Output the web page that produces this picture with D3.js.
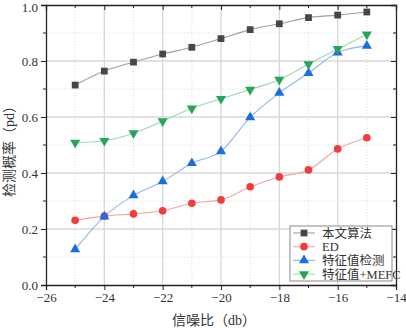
<!DOCTYPE html>
<html>
<head>
<meta charset="utf-8">
<script src="https://cdn.jsdelivr.net/npm/d3@7"></script>
<style>
  body { margin: 0; background: #fff; }
  text { font-family: "Liberation Serif", "Noto Sans CJK SC", serif; }
</style>
</head>
<body>
<div id="chart"></div>
<script>
const snr = [-25, -24, -23, -22, -21, -20, -19, -18, -17, -16, -15];
const ours = [0.714, 0.764, 0.796, 0.825, 0.849, 0.880, 0.912, 0.933, 0.955, 0.964, 0.975];
const ed = [0.231, 0.246, 0.254, 0.265, 0.292, 0.304, 0.351, 0.386, 0.411, 0.486, 0.526];
const eigen = [0.127, 0.244, 0.320, 0.370, 0.435, 0.477, 0.599, 0.686, 0.757, 0.830, 0.854];
const eigenMefc = [0.508, 0.515, 0.542, 0.585, 0.631, 0.665, 0.698, 0.733, 0.789, 0.843, 0.895];
const seriesNames = ['本文算法', 'ED', '特征值检测', '特征值+MEFC'];
const xTicks = [-26, -24, -22, -20, -18, -16, -14];
const yTicks = [0, 0.2, 0.4, 0.6, 0.8, 1.0];

const width = 406, height = 328;
const margin = { top: 5, right: 10, bottom: 43, left: 46 };
const innerW = width - margin.left - margin.right;
const innerH = height - margin.top - margin.bottom;

const series = [
  { name: seriesNames[0], values: ours, marker: '#474747', line: '#a0a0a0', symbol: d3.symbolSquare, size: 46, rot: 0 },
  { name: seriesNames[1], values: ed, marker: '#f23c3c', line: '#f5a3a3', symbol: d3.symbolCircle, size: 46, rot: 0 },
  { name: seriesNames[2], values: eigen, marker: '#1a6fdf', line: '#8fb6ef', symbol: d3.symbolTriangle, size: 44, rot: 0 },
  { name: seriesNames[3], values: eigenMefc, marker: '#27a55a', line: '#9cd9b0', symbol: d3.symbolTriangle, size: 44, rot: 180 }
];

const svg = d3.select('#chart')
  .append('svg')
  .attr('width', width)
  .attr('height', height);

const graph = svg.append('g')
  .attr('transform', `translate(${margin.left}, ${margin.top})`);

const x = d3.scaleLinear().domain([-26, -14]).range([0, innerW]);
const y = d3.scaleLinear().domain([0, 1]).range([innerH, 0]);

const minorX = d3.range(-25, -14, 2);
const minorY = d3.range(0.1, 1, 0.2);

// grid
graph.append('g').selectAll('line')
  .data(minorX)
  .join('line')
  .attr('x1', d => x(d)).attr('x2', d => x(d))
  .attr('y1', 0).attr('y2', innerH)
  .attr('stroke', '#dcdcdc').attr('stroke-dasharray', '1,2');
graph.append('g').selectAll('line')
  .data(minorY)
  .join('line')
  .attr('y1', d => y(d)).attr('y2', d => y(d))
  .attr('x1', 0).attr('x2', innerW)
  .attr('stroke', '#dcdcdc').attr('stroke-dasharray', '1,2');
graph.append('g').selectAll('line')
  .data(xTicks.slice(1, -1))
  .join('line')
  .attr('x1', d => x(d)).attr('x2', d => x(d))
  .attr('y1', 0).attr('y2', innerH)
  .attr('stroke', '#d9d9d9').attr('stroke-width', 1.3);
graph.append('g').selectAll('line')
  .data(yTicks.slice(1, -1))
  .join('line')
  .attr('y1', d => y(d)).attr('y2', d => y(d))
  .attr('x1', 0).attr('x2', innerW)
  .attr('stroke', '#d9d9d9').attr('stroke-width', 1.3);

// axes
const xAxis = graph.append('g')
  .attr('transform', `translate(0, ${innerH})`)
  .call(d3.axisBottom(x).tickValues(xTicks).tickSize(5).tickPadding(3)
    .tickFormat(d => d3.format('d')(d).replace('-', '\u2212')));
xAxis.append('g').selectAll('line')
  .data(minorX).join('line')
  .attr('x1', d => x(d)).attr('x2', d => x(d))
  .attr('y1', 0).attr('y2', 3).attr('stroke', '#222');

const yAxis = graph.append('g')
  .call(d3.axisLeft(y).tickValues(yTicks).tickSize(5).tickPadding(3)
    .tickFormat(d3.format('.1f')));
yAxis.append('g').selectAll('line')
  .data(minorY).join('line')
  .attr('y1', d => y(d)).attr('y2', d => y(d))
  .attr('x1', 0).attr('x2', -3).attr('stroke', '#222');

graph.append('g')
  .call(d3.axisTop(x).tickValues(xTicks).tickSize(-5).tickFormat(''))
  .append('g').selectAll('line')
  .data(minorX).join('line')
  .attr('x1', d => x(d)).attr('x2', d => x(d))
  .attr('y1', 0).attr('y2', 3).attr('stroke', '#222');

graph.append('g')
  .attr('transform', `translate(${innerW}, 0)`)
  .call(d3.axisRight(y).tickValues(yTicks).tickSize(-5).tickFormat(''))
  .append('g').selectAll('line')
  .data(minorY).join('line')
  .attr('y1', d => y(d)).attr('y2', d => y(d))
  .attr('x1', 0).attr('x2', -3).attr('stroke', '#222');

graph.selectAll('.domain').attr('stroke', '#222').attr('stroke-width', 1.3);
graph.selectAll('.tick line').attr('stroke', '#222');
graph.selectAll('.tick text')
  .attr('fill', '#333')
  .style('font-size', '13px');
// keep the top label inside the picture
yAxis.selectAll('.tick text')
  .filter(d => d === 1)
  .attr('y', 2);

// lines and markers
const line = d3.line()
  .x((d, i) => x(snr[i]))
  .y(d => y(d))
  .curve(d3.curveMonotoneX);

series.forEach(s => {
  graph.append('path')
    .datum(s.values)
    .attr('fill', 'none')
    .attr('stroke', s.line)
    .attr('stroke-width', 1.1)
    .attr('d', line);
});

series.forEach(s => {
  const sym = d3.symbol().type(s.symbol).size(s.size);
  graph.append('g').selectAll('path')
    .data(s.values)
    .join('path')
    .attr('d', sym)
    .attr('fill', s.marker)
    .attr('transform', (d, i) => `translate(${x(snr[i])}, ${y(d)}) rotate(${s.rot})`);
});

// legend
const legend = graph.append('g')
  .attr('transform', `translate(${innerW - 106}, ${innerH - 59})`);
legend.append('rect')
  .attr('width', 102).attr('height', 55)
  .attr('fill', '#fff').attr('stroke', '#8a8a8a');
series.forEach((s, i) => {
  const row = legend.append('g').attr('transform', `translate(0, ${7 + i * 13.7})`);
  row.append('line')
    .attr('x1', 3).attr('x2', 25).attr('y1', 0).attr('y2', 0)
    .attr('stroke', s.line).attr('stroke-width', 1.1);
  row.append('path')
    .attr('d', d3.symbol().type(s.symbol).size(s.size))
    .attr('fill', s.marker)
    .attr('transform', `translate(14, 0) rotate(${s.rot})`);
  row.append('text')
    .attr('x', 32).attr('y', 0).attr('dy', '0.36em')
    .attr('fill', '#333')
    .style('font-size', '12.5px')
    .text(s.name);
});

// axis titles
svg.append('text')
  .attr('x', margin.left + innerW / 2 - 7)
  .attr('y', 320)
  .attr('dy', '0.35em')
  .attr('text-anchor', 'middle')
  .attr('fill', '#333')
  .style('font-size', '14px')
  .text('信噪比（db）');

svg.append('text')
  .attr('transform', `translate(9, 148) rotate(-90)`)
  .attr('dy', '0.35em')
  .attr('text-anchor', 'middle')
  .attr('fill', '#333')
  .style('font-size', '14px')
  .text('检测概率（pd）');
</script>
</body>
</html>
